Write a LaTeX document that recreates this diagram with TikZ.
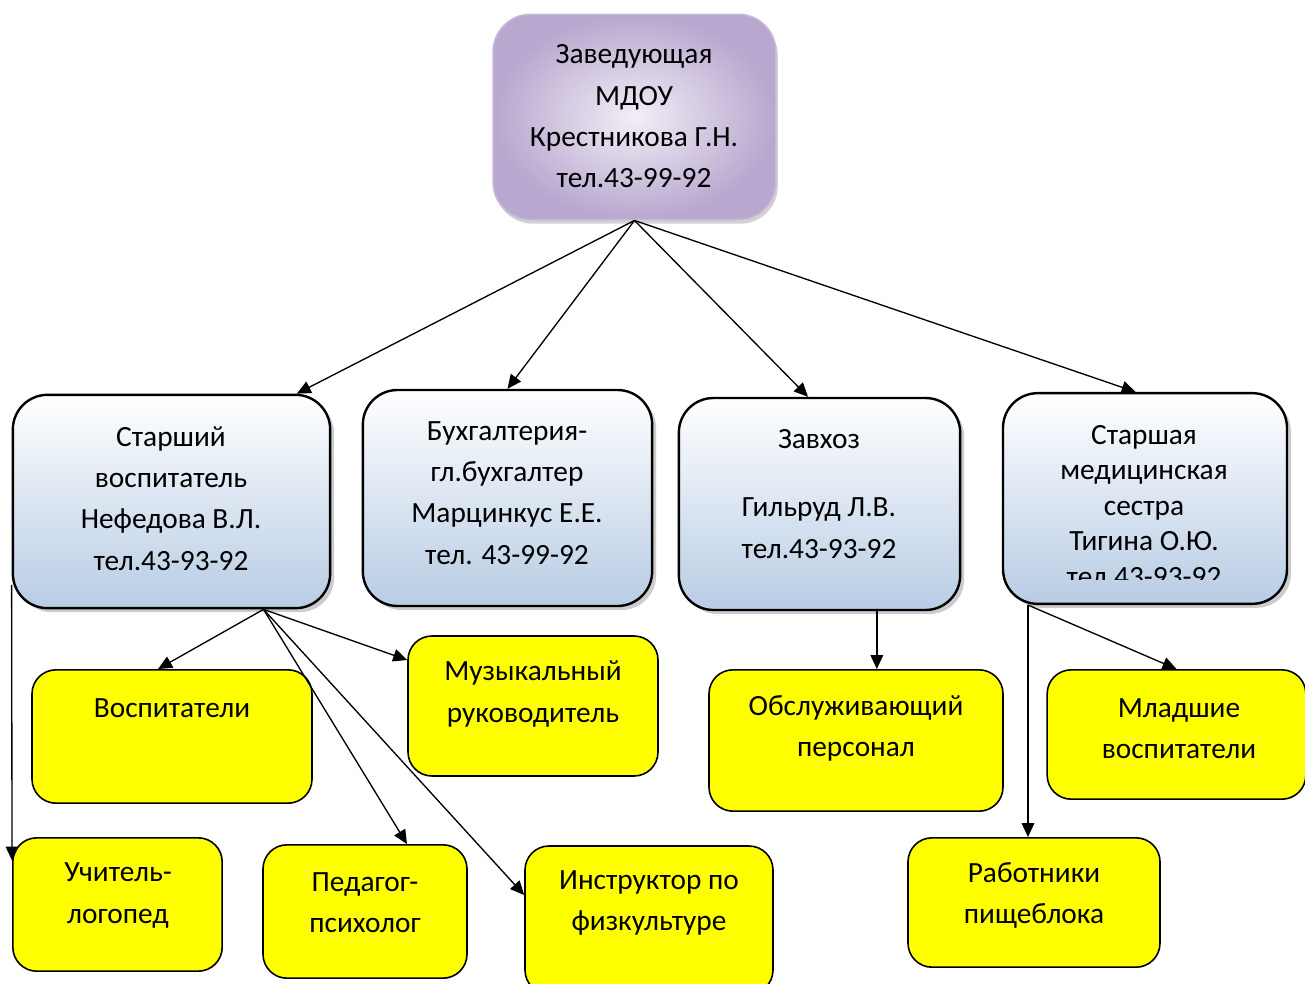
\documentclass[tikz,border=0pt]{standalone}
\usepackage{fontspec}
\setmainfont{Carlito}
\usetikzlibrary{arrows.meta,shadows}
\definecolor{lilac}{HTML}{B8A7CF}
\definecolor{lilacpale}{HTML}{F2EEF6}
\definecolor{steelpale}{HTML}{B8CCE4}
\definecolor{lemon}{HTML}{FFFF00}

\begin{document}
\begin{tikzpicture}[x=0.75pt, y=-0.75pt, >={Triangle[length=10.5pt,width=9.5pt]},
    headbox/.style={draw=lilac!80, line width=1.2pt, rounded corners=28pt, inner color=lilacpale, outer color=lilac, inner sep=0pt,
        drop shadow={shadow xshift=1.5pt, shadow yshift=-3pt, fill=black!35}},
    chiefbox/.style={draw=black, line width=1.8pt, rounded corners=26pt, top color=white, bottom color=steelpale, inner sep=0pt,
        drop shadow={shadow xshift=3pt, shadow yshift=-3pt, fill=black!40}},
    staffbox/.style={draw=black, line width=1.2pt, rounded corners=18pt, fill=lemon, inner sep=0pt},
    lbl/.style={align=center, font=\fontsize{22}{31}\selectfont, inner sep=0pt},
    link/.style={->, line width=1pt}]
    \useasboundingbox (0,0) rectangle (1305,984);

    % Boxes
    \node[headbox, minimum width=212pt, minimum height=154pt] (head) at (634.5,117) {};
    \node[chiefbox, minimum width=238pt, minimum height=160pt] (senior) at (171.5,501.5) {};
    \node[chiefbox, minimum width=217pt, minimum height=162pt] (account) at (507.5,498) {};
    \node[chiefbox, minimum width=211pt, minimum height=159pt] (supply) at (819.5,504) {};
    \node[chiefbox, minimum width=213pt, minimum height=158pt] (nurse) at (1145,498.5) {};
    \node[staffbox, minimum width=210pt, minimum height=100pt] (tutors) at (172,736.5) {};
    \node[staffbox, minimum width=187.5pt, minimum height=105pt] (music) at (533,706) {};
    \node[staffbox, minimum width=220.5pt, minimum height=106pt] (service) at (856,740.5) {};
    \node[staffbox, minimum width=194pt, minimum height=97pt] (juniors) at (1176.5,734.5) {};
    \node[staffbox, minimum width=157pt, minimum height=100pt] (speech) at (117.5,904.5) {};
    \node[staffbox, minimum width=153pt, minimum height=100pt] (psych) at (365,911.5) {};
    \node[staffbox, minimum width=186pt, minimum height=111pt] (sport) at (649,920) {};
    \node[staffbox, minimum width=189pt, minimum height=97pt] (kitchen) at (1034,902.5) {};

    % Texts
    \node[lbl] (headtxt) at (634,116.5) {Заведующая\\МДОУ\\Крестникова Г.Н.\\тел.43-99-92};
    \node[lbl] (seniortxt) at (171,498.5) {Старший\\воспитатель\\Нефедова В.Л.\\тел.43-93-92};
    \node[lbl] (accounttxt) at (507,493) {Бухгалтерия-\\гл.бухгалтер\\Марцинкус Е.Е.\\тел. 43-99-92};
    \node[lbl] (supplytxt) at (819,494) {Завхоз\\[20pt]Гильруд Л.В.\\тел.43-93-92};
    \begin{scope}
        \clip (1003,393) rectangle (1287,579);
        \node[lbl, font=\fontsize{22}{26.6}\selectfont] (nursetxt) at (1144,506) {Старшая\\медицинская\\сестра\\Тигина О.Ю.\\тел.43-93-92};
    \end{scope}
    \node[lbl] (tutorstxt) at (172,708) {Воспитатели};
    \node[lbl] (musictxt) at (533,694) {Музыкальный\\руководитель};
    \node[lbl] (servicetxt) at (856,728.5) {Обслуживающий\\персонал};
    \node[lbl] (juniorstxt) at (1179,728.5) {Младшие\\воспитатели};
    \node[lbl] (speechtxt) at (118,895.5) {Учитель-\\логопед};
    \node[lbl] (psychtxt) at (365,902.5) {Педагог-\\психолог};
    \node[lbl] (sporttxt) at (649,903) {Инструктор по\\физкультуре};
    \node[lbl] (kitchentxt) at (1034,895.5) {Работники\\пищеблока};

    % Links
    \draw[link] (head.south) -- ([xshift=94pt]senior.north);
    \draw[link] (head.south) -- (account.north);
    \draw[link] (head.south) -- ([xshift=-8.6pt]supply.north);
    \draw[link] (head.south) -- ([xshift=-7pt]nurse.north);

    \coordinate (seniorout) at ([xshift=69pt]senior.south);
    \draw[link] (seniorout) -- ([xshift=-10.5pt]tutors.north);
    \draw[link] (seniorout) -- ([yshift=34.5pt]music.west);
    \draw[link] (seniorout) -- ([xshift=31.5pt]psych.north);
    \draw[link] (seniorout) -- ([yshift=18.75pt]sport.west);
    \draw[link] ([yshift=-62.6pt]senior.west) -- ([yshift=33pt]speech.west);

    \coordinate (supplyout) at ([xshift=43pt]supply.south);
    \draw[link] (supplyout) -- (supplyout |- service.north);
    \coordinate (nurseout) at ([xshift=-87.75pt]nurse.south);
    \draw[link] (nurseout) -- (nurseout |- kitchen.north);
    \draw[link] (nurseout) -- (juniors.north);
\end{tikzpicture}
\end{document}
